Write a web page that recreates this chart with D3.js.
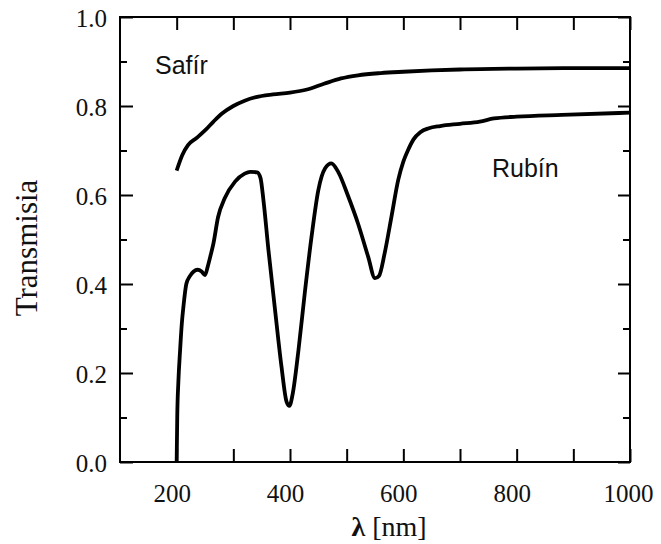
<!DOCTYPE html>
<html>
<head>
<meta charset="utf-8">
<script src="https://cdn.jsdelivr.net/npm/d3@7"></script>
<style>
  html, body { margin: 0; padding: 0; background: #fff; }
  svg { display: block; }
  .serif { font-family: "Liberation Serif", "Times New Roman", serif; }
  .sans { font-family: "Liberation Sans", Arial, sans-serif; }
</style>
</head>
<body>
<svg id="chart" width="661" height="544"></svg>
<script>
// ---- data ----
const safirWave  = [200, 210, 220, 235, 250, 265, 280, 300, 320, 340, 370, 400, 430, 460, 490, 520, 560, 600, 650, 700, 800, 900, 1000];
const safirTrans = [0.655, 0.690, 0.712, 0.728, 0.745, 0.765, 0.783, 0.800, 0.812, 0.820, 0.826, 0.830, 0.837, 0.850, 0.862, 0.869, 0.874, 0.877, 0.880, 0.882, 0.884, 0.885, 0.885];

const rubinWave  = [200, 201, 203, 206, 209, 212, 217, 223, 230, 237, 244, 250, 255, 260, 265, 273, 285, 303, 320, 330, 342, 348, 353, 362, 373, 385, 394, 399, 405, 415, 426, 438, 450, 462, 473, 485, 503, 520, 538, 550, 557, 567, 579, 591, 600, 608, 618, 630, 645, 665, 700, 735, 760, 800, 880, 1000];
const rubinTrans = [0.000, 0.100, 0.180, 0.250, 0.310, 0.350, 0.400, 0.417, 0.428, 0.432, 0.428, 0.420, 0.440, 0.465, 0.492, 0.550, 0.593, 0.630, 0.648, 0.652, 0.651, 0.638, 0.590, 0.476, 0.349, 0.214, 0.135, 0.126, 0.155, 0.252, 0.379, 0.506, 0.611, 0.660, 0.671, 0.652, 0.596, 0.536, 0.461, 0.413, 0.418, 0.469, 0.551, 0.634, 0.675, 0.700, 0.725, 0.741, 0.750, 0.755, 0.760, 0.765, 0.772, 0.776, 0.780, 0.785];

const xTickValues = [200, 300, 400, 500, 600, 700, 800, 900, 1000];
const xLabelValues = [200, 400, 600, 800, 1000];
const xLabelTexts = ["200", "400", "600", "800", "1000"];
const yMajorValues = [0, 0.2, 0.4, 0.6, 0.8, 1.0];
const yMinorValues = [0.1, 0.3, 0.5, 0.7, 0.9];
const yLabelTexts = ["0.0", "0.2", "0.4", "0.6", "0.8", "1.0"];

const seriesLabels = ["Safír", "Rubín"];
const xTitle = "[nm]";
const xTitleSymbol = "λ";
const yTitle = "Transmisia";

// ---- layout ----
const svg = d3.select("#chart");
const plotL = 120, plotR = 630, plotT = 17, plotB = 462;
const x = d3.scaleLinear().domain([100, 1000]).range([plotL, plotR]);
const y = d3.scaleLinear().domain([0, 1]).range([plotB, plotT]);
const serif = "Liberation Serif, Times New Roman, serif";
const sans = "Liberation Sans, Arial, sans-serif";

// frame
svg.append("rect")
  .attr("x", plotL).attr("y", plotT)
  .attr("width", plotR - plotL).attr("height", plotB - plotT)
  .attr("fill", "none").attr("stroke", "#000").attr("stroke-width", 2);

function styleAxis(g) {
  g.attr("font-family", null).attr("font-size", null).attr("class", "serif");
  g.select(".domain").remove();
  g.selectAll(".tick line").attr("stroke", "#000").attr("stroke-width", 2);
  g.selectAll("text")
    .attr("class", "serif")
    .style("font-family", serif)
    .style("font-size", "25px")
    .attr("fill", "#111");
}

// bottom axis: ticks (inward) every 100
svg.append("g").attr("transform", `translate(0,${plotB})`)
  .call(d3.axisBottom(x).tickValues(xTickValues).tickSize(-13).tickFormat(""))
  .call(styleAxis);
// bottom labels
svg.append("g").attr("transform", `translate(0,${plotB})`)
  .call(d3.axisBottom(x).tickValues(xLabelValues).tickSize(0).tickPadding(22)
    .tickFormat((d, i) => xLabelTexts[i]))
  .call(styleAxis)
  .call(g => g.selectAll("text").attr("dx", (d, i) => i === xLabelValues.length - 1 ? -2 : -5));
// top axis ticks
svg.append("g").attr("transform", `translate(0,${plotT})`)
  .call(d3.axisTop(x).tickValues(xTickValues).tickSize(-13).tickFormat(""))
  .call(styleAxis);

// left axis
svg.append("g").attr("transform", `translate(${plotL},0)`)
  .call(d3.axisLeft(y).tickValues(yMajorValues).tickSize(-13).tickPadding(13)
    .tickFormat((d, i) => yLabelTexts[i]))
  .call(styleAxis)
  .call(g => g.selectAll("text").attr("dy", "0.38em"));
svg.append("g").attr("transform", `translate(${plotL},0)`)
  .call(d3.axisLeft(y).tickValues(yMinorValues).tickSize(-7).tickFormat(""))
  .call(styleAxis);
// right axis
svg.append("g").attr("transform", `translate(${plotR},0)`)
  .call(d3.axisRight(y).tickValues(yMajorValues).tickSize(-12).tickFormat(""))
  .call(styleAxis);
svg.append("g").attr("transform", `translate(${plotR},0)`)
  .call(d3.axisRight(y).tickValues(yMinorValues).tickSize(-7).tickFormat(""))
  .call(styleAxis);

// lines
const line = d3.line()
  .x(d => x(d[0])).y(d => y(d[1]))
  .curve(d3.curveMonotoneX);

const safir = safirWave.map((w, i) => [w, safirTrans[i]]);
const rubin = rubinWave.map((w, i) => [w, rubinTrans[i]]);

[safir, rubin].forEach(data => {
  svg.append("path").datum(data)
    .attr("d", line)
    .attr("fill", "none")
    .attr("stroke", "#000")
    .attr("stroke-width", 3.8)
    .attr("stroke-linejoin", "round")
    .attr("stroke-linecap", "butt");
});

// series labels
svg.append("text").attr("x", 155).attr("y", 74)
  .attr("class", "sans").style("font-size", "25px").attr("fill", "#111")
  .text(seriesLabels[0]);
svg.append("text").attr("x", 492).attr("y", 177)
  .attr("class", "sans").style("font-size", "25px").attr("fill", "#111")
  .text(seriesLabels[1]);

// axis titles
const xt = svg.append("text")
  .attr("x", 389).attr("y", 536)
  .attr("text-anchor", "middle")
  .attr("class", "serif").style("font-size", "28px").attr("fill", "#111");
xt.append("tspan").attr("font-weight", "bold").text(xTitleSymbol);
xt.append("tspan").text(" " + xTitle);

svg.append("text")
  .attr("transform", "translate(37,248) rotate(-90)")
  .attr("text-anchor", "middle")
  .attr("class", "serif").style("font-size", "31px").attr("fill", "#111")
  .text(yTitle);
</script>
</body>
</html>
